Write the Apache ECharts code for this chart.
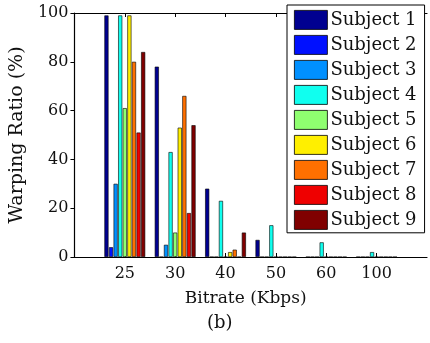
<!DOCTYPE html>
<html>
<head>
<meta charset="utf-8">
<script src="https://cdn.jsdelivr.net/npm/echarts@6/dist/echarts.min.js"></script>
<style>html,body{margin:0;padding:0;background:#fff;}#c{width:430px;height:343px;}</style>
</head>
<body>
<div id="c"></div>
<script>
// Categories (blank ends reproduce the x-limits of the original axis)
var categories = ['', '25', '30', '40', '50', '60', '100', ''];
var subjects = ['Subject 1','Subject 2','Subject 3','Subject 4','Subject 5','Subject 6','Subject 7','Subject 8','Subject 9'];
var colors = ['#000090','#0010FF','#0090FF','#10FFEF','#8FFF70','#FFEF00','#FF7000','#EF0000','#800000'];
// Warping ratio (%) per subject for bitrates 25,30,40,50,60,100
var s1 = [99, 78, 28, 7, 0, 0];
var s2 = [4, 0, 0, 0, 0, 0];
var s3 = [30, 5, 0, 0, 0, 0];
var s4 = [99, 43, 23, 13, 6, 2];
var s5 = [61, 10, 0, 0, 0, 0];
var s6 = [99, 53, 2, 0, 0, 0];
var s7 = [80, 66, 3, 0, 0, 0];
var s8 = [51, 18, 0, 0, 0, 0];
var s9 = [84, 54, 10, 0, 0, 0];
var yTicks = [0, 20, 40, 60, 80, 100];

var allData = [s1, s2, s3, s4, s5, s6, s7, s8, s9];
var font = 'DejaVu Serif';
var chart = echarts.init(document.getElementById('c'), null, {renderer: 'canvas'});
var series = allData.map(function (d, i) {
  return {
    name: subjects[i],
    type: 'bar',
    data: [null].concat(d).concat([null]),
    barCategoryGap: '19%',
    barGap: '12%',
    itemStyle: {color: colors[i], borderColor: '#000', borderWidth: 0.6},
    animation: false
  };
});
function tickShow(idx) { return idx >= 1 && idx <= 6; }
chart.setOption({
  animation: false,
  color: colors,
  grid: {left: 73, right: 0, top: 13, bottom: 86, containLabel: false},
  legend: {
    orient: 'vertical',
    left: 287, top: 5,
    width: 140,
    padding: [5, 8, 3, 7],
    itemWidth: 33, itemHeight: 19, itemGap: 5.2,
    backgroundColor: '#fff',
    borderColor: '#000', borderWidth: 1,
    borderRadius: 0,
    icon: 'rect',
    itemStyle: {borderColor: '#000', borderWidth: 0.8},
    textStyle: {fontFamily: font, fontSize: 18, color: '#111', padding: [0, 0, 0, -2]},
    data: subjects
  },
  xAxis: [{
    type: 'category',
    data: categories,
    boundaryGap: false,
    position: 'bottom',
    name: 'Bitrate (Kbps)',
    nameLocation: 'middle',
    nameGap: 33,
    nameTextStyle: {fontFamily: font, fontSize: 17, color: '#111', padding: [0, 10, 0, 0]},
    axisLine: {lineStyle: {color: '#000', width: 1.2}},
    axisTick: {inside: true, length: 4, interval: tickShow, lineStyle: {color: '#000'}},
    axisLabel: {fontFamily: font, fontSize: 16, color: '#111', margin: 9, interval: 0},
    splitLine: {show: false}
  }, {
    type: 'category',
    data: categories,
    boundaryGap: false,
    position: 'top',
    axisLine: {lineStyle: {color: '#000', width: 1.2}},
    axisTick: {inside: true, length: 4, interval: tickShow, lineStyle: {color: '#000'}},
    axisLabel: {show: false},
    splitLine: {show: false}
  }],
  yAxis: {
    type: 'value',
    min: 0, max: 100, interval: 20,
    name: 'Warping Ratio (%)',
    nameLocation: 'middle',
    nameGap: 40,
    nameTextStyle: {fontFamily: font, fontSize: 19, color: '#111'},
    axisLine: {show: true, lineStyle: {color: '#000', width: 1.2}},
    axisTick: {show: true, length: 4, lineStyle: {color: '#000'}},
    axisLabel: {fontFamily: font, fontSize: 16, color: '#111', margin: 6,
      formatter: function (v) { return yTicks.indexOf(v) >= 0 ? String(v) : ''; }},
    splitLine: {show: false}
  },
  graphic: [{
    type: 'text',
    left: 207, top: 314,
    style: {text: '(b)', font: '18px "DejaVu Serif"', fill: '#111'}
  }],
  series: series
});
</script>
</body>
</html>
